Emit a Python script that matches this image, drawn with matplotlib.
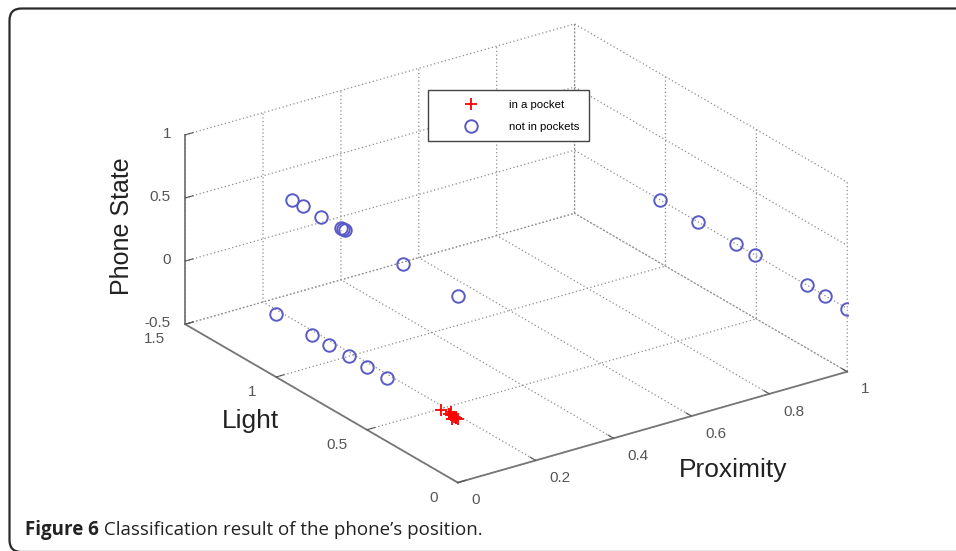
import matplotlib
matplotlib.use('Agg')
import matplotlib.pyplot as plt
from matplotlib.patches import FancyBboxPatch

# data: (proximity, light, phone state)
pocket_prox = [0.0, 0.0, 0.0, 0.0, 0.0, 0.0, 0.01, 0.01, 0.0]
pocket_light = [0.0, 0.01, 0.02, 0.03, 0.04, 0.05, 0.03, 0.06, 0.09]
pocket_state = [0.0, 0.0, 0.0, -0.02, 0.0, 0.0, -0.02, 0.0, 0.0]

other_prox = [0, 0, 0, 0, 0, 0, 0, 0,
              0, 0, 0, 0, 0, 0,
              1, 1, 1, 1, 1, 1, 1]
other_light = [0.0, 0.30, 0.62, 0.63, 0.64, 0.75, 0.85, 0.91,
               0.39, 0.50, 0.60, 0.71, 0.80, 1.0,
               0.0, 0.12, 0.22, 0.51, 0.61, 0.82, 1.03]
other_state = [0.98, 0.98, 0.98, 0.98, 0.98, 0.98, 0.98, 0.98,
               0, 0, 0, 0, 0, 0,
               0, 0, 0, 0, 0, 0, 0]

x_ticks = [0, 0.2, 0.4, 0.6, 0.8, 1]
x_labels = ['0', '0.2', '0.4', '0.6', '0.8', '1']
y_ticks = [0, 0.5, 1, 1.5]
y_labels = ['0', '0.5', '1', '1.5']
z_ticks = [-0.5, 0, 0.5, 1]
z_labels = ['-0.5', '0', '0.5', '1']

plt.rcParams['font.family'] = ['Liberation Sans', 'DejaVu Sans']

fig = plt.figure(figsize=(9.56, 5.51), dpi=100)

ax = fig.add_axes([0.1731, -0.0962, 0.7144, 1.2396], projection='3d')
ax.set_facecolor('none')
ax.set_proj_type('ortho')
ax.view_init(elev=24, azim=-125)
ax.set_box_aspect((1, 1, 0.436))

ax.plot(pocket_prox, pocket_light, pocket_state, '+', color='red', ms=8, mew=1.3,
        label='in a pocket')
ax.plot(other_prox, other_light, other_state, 'o', mfc='none', mec='#5b5bc8',
        ms=9, mew=1.4, label='not in pockets')

ax.set_xlim(0, 1)
ax.set_ylim(0, 1.5)
ax.set_zlim(-0.5, 1)
ax.set_xticks(x_ticks)
ax.set_xticklabels(x_labels, ha='left', va='center')
ax.set_yticks(y_ticks)
ax.set_yticklabels(y_labels, ha='right', va='center')
ax.set_zticks(z_ticks)
ax.set_zticklabels(z_labels, ha='right', va='center')

for axis in (ax.xaxis, ax.yaxis, ax.zaxis):
    axis.set_pane_color((1, 1, 1, 0))
    axis.pane.set_edgecolor('none')
    axis.line.set_color('#777777')
    axis.line.set_linewidth(1.3)
    axis._axinfo['grid'].update(color='#8c8c8c', linewidth=0.9, linestyle=(0, (1, 2)))
    axis._axinfo['tick'].update(inward_factor=0.0, outward_factor=0.25)
ax.tick_params(labelsize=11, colors='#555555')
ax.xaxis.set_tick_params(pad=5)
ax.yaxis.set_tick_params(pad=5)
ax.zaxis.set_tick_params(pad=-2.5)

# axis labels placed flat like in the original
ax.text2D(733 / 956, 1 - 470 / 551, 'Proximity', transform=fig.transFigure,
          fontsize=19, color='#222222', ha='center', va='center')
ax.text2D(250 / 956, 1 - 421 / 551, 'Light', transform=fig.transFigure,
          fontsize=19, color='#222222', ha='center', va='center')
ax.text2D(122 / 956, 1 - 226 / 551, 'Phone State', transform=fig.transFigure,
          fontsize=18, color='#222222', ha='center', va='center', rotation=90)

fig.legend(loc='upper left', bbox_to_anchor=(428 / 956, 1 - 90 / 551), fontsize=8.2,
           frameon=True, fancybox=False, edgecolor='#444444', framealpha=1,
           numpoints=1, borderpad=0.85, handlelength=5.9, handletextpad=0.4,
           labelspacing=1.05, borderaxespad=0)

# frame and caption on top layer
bg = fig.add_axes([0, 0, 1, 1], zorder=10)
bg.set_xlim(0, 956)
bg.set_ylim(551, 0)
bg.axis('off')
frame = FancyBboxPatch((9.5, 8.5), 1000, 543.5, boxstyle='round,pad=0,rounding_size=12',
                       fc='none', ec='#2a2a2a', lw=1.6)
bg.add_patch(frame)
t1 = bg.text(25, 530, 'Figure 6', fontsize=13.5, weight='bold', family='Open Sans',
             color='#222222', va='center', ha='left')
bg.annotate(' Classification result of the phone\u2019s position.', xy=(1, 0.5),
            xycoords=t1, va='center', ha='left', fontsize=13.5, family='Open Sans',
            color='#222222')

fig.savefig('out.png', dpi=100)
